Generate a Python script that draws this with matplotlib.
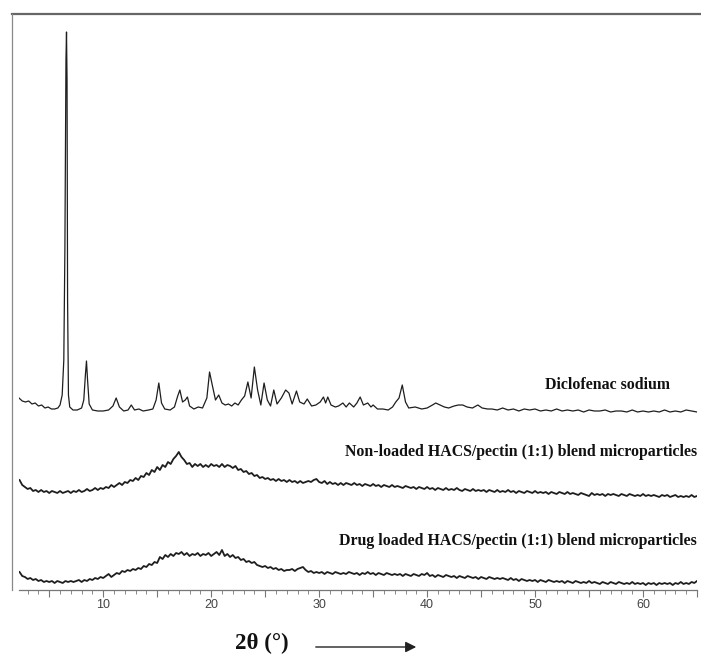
import numpy as np
import matplotlib
matplotlib.use("Agg")
import matplotlib.pyplot as plt
from matplotlib.lines import Line2D
from matplotlib.ticker import MultipleLocator, FuncFormatter

# diffraction patterns, 2theta in degrees, intensity in arbitrary units
dic_2theta = [2.2, 2.5, 2.8, 3.1, 3.4, 3.7, 4.0, 4.3, 4.6, 4.9, 5.2, 5.5, 5.8, 6.0, 6.2, 6.35, 6.45, 6.55, 6.6, 6.65,
              6.7, 6.78, 6.9, 7.2, 7.6, 8.0, 8.2, 8.35, 8.45, 8.55, 8.7, 9.0, 9.5, 10.0, 10.5, 10.9, 11.2, 11.5, 11.9, 12.3,
              12.6, 12.9, 13.3, 13.7, 14.2, 14.6, 14.9, 15.15, 15.4, 15.7, 16.2, 16.6, 16.9, 17.1, 17.35, 17.6, 17.8, 18.0, 18.4, 18.8,
              19.2, 19.6, 19.85, 20.1, 20.4, 20.7, 21.0, 21.3, 21.6, 21.9, 22.2, 22.5, 22.8, 23.1, 23.4, 23.7, 24.0, 24.3, 24.6, 24.9,
              25.2, 25.5, 25.8, 26.1, 26.5, 26.9, 27.2, 27.5, 27.9, 28.2, 28.6, 28.9, 29.3, 29.7, 30.1, 30.4, 30.6, 30.8, 31.1, 31.5,
              31.8, 32.2, 32.5, 32.8, 33.2, 33.5, 33.8, 34.1, 34.5, 34.8, 35.0, 35.4, 35.9, 36.4, 36.8, 37.1, 37.4, 37.7, 38.0, 38.3,
              38.9, 39.5, 40.0, 40.5, 40.8, 41.2, 41.6, 42.0, 42.5, 42.9, 43.3, 43.7, 44.2, 44.7, 45.1, 45.6,
              46.0, 46.5, 47.0, 47.5, 48.0, 48.5, 49.0, 49.5, 50.0, 50.5, 51.0, 51.5, 52.0, 52.5, 53.0, 53.5, 54.0, 54.5, 55.0, 55.5,
              56.0, 56.5, 57.0, 57.5, 58.0, 58.5, 59.0, 59.5, 60.0, 60.5, 61.0, 61.5, 62.0, 62.5, 63.0, 63.5, 64.0, 64.5, 65.0]
dic_int = [17, 14, 13, 14, 11, 12, 9, 10, 7, 8, 6, 6, 7, 10, 20, 55, 165, 355, 383, 335,
           115, 20, 8, 5, 5, 7, 15, 40, 54, 35, 11, 5, 4, 4, 5, 9, 17, 8, 4, 5,
           10, 5, 6, 4, 5, 6, 15, 32, 12, 6, 5, 8, 19, 25, 13, 15, 18, 9, 6, 8,
           7, 17, 43, 30, 15, 20, 12, 10, 11, 9, 12, 10, 15, 19, 33, 17, 48, 25, 10, 32,
           15, 9, 25, 11, 17, 25, 22, 11, 24, 13, 11, 16, 9, 10, 13, 18, 12, 18, 10, 8,
           9, 12, 8, 12, 8, 12, 18, 10, 12, 8, 10, 6, 6, 5, 8, 13, 17, 30, 13, 7,
           8, 6, 7, 10, 12, 10, 8, 7, 9, 10, 10, 8, 7, 10, 7, 6,
           6, 5, 7, 5, 6, 4, 6, 5, 6, 4, 5, 4, 6, 4, 5, 4, 5, 3, 5, 4,
           4, 5, 3, 4, 4, 3, 5, 3, 4, 3, 4, 3, 5, 3, 4, 3, 5, 4, 3]

blend_2theta = np.arange(2.25, 65.01, 0.25)
nonloaded_int = [20, 15, 13, 11, 12, 9, 10, 8, 10, 8, 9, 7, 9, 8, 7, 9, 7, 8, 9, 7,
                 9, 8, 10, 8, 9, 11, 9, 10, 12, 10, 12, 11, 13, 12, 15, 13, 15, 17, 15, 18,
                 17, 20, 19, 22, 20, 24, 23, 27, 25, 30, 28, 33, 30, 35, 33, 38, 36, 41, 44, 48,
                 43, 40, 36, 37, 33, 36, 34, 36, 33, 35, 33, 36, 34, 35, 33, 36, 33, 35, 34, 32,
                 34, 30, 31, 28, 29, 26, 27, 24, 25, 22, 23, 21, 22, 20, 21, 19, 21, 19, 20, 18,
                 20, 18, 19, 17, 19, 17, 18, 19, 18, 20, 21, 18, 17, 19, 16, 18, 16, 17, 15, 17,
                 15, 17, 16, 15, 17, 15, 16, 14, 16, 15, 14, 16, 14, 15, 13, 15, 14, 13, 15, 13,
                 14, 13, 12, 14, 13, 12, 13, 11, 13, 12, 11, 13, 11, 12, 10, 12, 11, 10, 12, 10,
                 11, 10, 12, 10, 9, 11, 10, 9, 11, 9, 10, 9, 10, 8, 10, 9, 8, 10, 8, 9,
                 8, 10, 8, 9, 7, 9, 8, 7, 9, 8, 7, 9, 7, 8, 7, 8, 6, 8, 7, 6,
                 8, 7, 6, 8, 6, 7, 6, 5, 7, 6, 5, 4, 7, 5, 6, 5, 6, 4, 6, 5,
                 6, 5, 4, 6, 5, 4, 6, 5, 4, 5, 4, 6, 4, 5, 4, 5, 4, 3, 5, 4,
                 5, 3, 4, 5, 3, 4, 3, 4, 3, 5, 3, 4]
loaded_int = [18, 14, 13, 11, 12, 10, 11, 9, 10, 8, 9, 8, 9, 7, 9, 8, 7, 9, 8, 9,
              8, 9, 10, 8, 10, 9, 11, 10, 12, 11, 13, 12, 14, 16, 13, 15, 17, 16, 19, 18,
              20, 19, 21, 20, 22, 21, 24, 23, 26, 25, 28, 27, 33, 31, 35, 33, 36, 34, 37, 36,
              38, 35, 37, 34, 36, 35, 37, 34, 36, 35, 37, 34, 36, 38, 35, 40, 34, 36, 33, 35,
              32, 33, 30, 31, 28, 29, 27, 28, 25, 24, 23, 24, 22, 23, 21, 22, 20, 21, 19, 20,
              20, 21, 19, 21, 22, 23, 20, 18, 19, 17, 18, 17, 18, 16, 18, 17, 16, 18, 17, 16,
              17, 16, 18, 17, 16, 17, 15, 17, 16, 18, 16, 17, 15, 17, 16, 15, 17, 16, 15, 16,
              15, 16, 14, 16, 15, 14, 16, 15, 14, 16, 15, 17, 14, 15, 13, 15, 14, 13, 15, 14,
              13, 14, 12, 14, 13, 12, 14, 13, 12, 13, 11, 13, 12, 11, 13, 12, 11, 12, 11, 12,
              11, 10, 12, 10, 11, 9, 11, 10, 9, 10, 9, 10, 8, 10, 9, 8, 10, 9, 8, 9,
              8, 9, 7, 9, 8, 7, 9, 8, 7, 8, 7, 9, 7, 8, 7, 6, 8, 7, 6, 8,
              7, 6, 8, 7, 6, 7, 6, 8, 6, 7, 6, 7, 5, 7, 6, 7, 5, 7, 6, 7,
              6, 7, 5, 7, 6, 8, 6, 7, 6, 8, 7, 9]

labels = ["Diclofenac sodium",
          "Non-loaded HACS/pectin (1:1) blend microparticles",
          "Drug loaded HACS/pectin (1:1) blend microparticles"]
offsets = [175, 90, 0]

W, H = 701, 654
fig = plt.figure(figsize=(W / 100, H / 100), dpi=100)
ax = fig.add_axes([19 / W, (H - 590) / H, (697 - 19) / W, (590 - 14) / H])

lc = "#1e1e1e"
ax.plot(dic_2theta, np.array(dic_int) + offsets[0], color=lc, lw=0.9)
ax.plot(blend_2theta, np.array(nonloaded_int) + offsets[1], color=lc, lw=1.3)
ax.plot(blend_2theta, np.array(loaded_int) + offsets[2], color=lc, lw=1.3)

ax.set_xlim(2.2, 65)
ax.set_ylim(0, 576)
for s in ["top", "right", "left"]:
    ax.spines[s].set_visible(False)
ax.spines["bottom"].set_color("#777777")
ax.spines["bottom"].set_linewidth(0.9)
ax.set_yticks([])
ax.xaxis.set_major_locator(MultipleLocator(5))
ax.xaxis.set_minor_locator(MultipleLocator(1))
ax.xaxis.set_major_formatter(FuncFormatter(lambda v, p: "%d" % v if round(v) % 10 == 0 else ""))
ax.tick_params(axis="x", which="major", length=5, width=0.8, color="#777777",
               labelsize=9, labelcolor="#444444", pad=1.5)
ax.tick_params(axis="x", which="minor", length=3, width=0.7, color="#888888")
for lab in ax.get_xticklabels():
    lab.set_family("Liberation Sans")

# frame lines at top and left
fig.add_artist(Line2D([12 / W, 1], [(H - 14) / H] * 2, color="#666666", lw=1.6))
fig.add_artist(Line2D([12 / W] * 2, [(H - 14) / H, (H - 590) / H], color="#888888", lw=0.9))

font = dict(family="Liberation Serif", weight="bold", fontsize=11.4, color="#111111")
fig.text(670 / W, (H - 385) / H, labels[0], ha="right", va="center", **font)
fig.text(697 / W, (H - 452) / H, labels[1], ha="right", va="center", **font)
fig.text(697 / W, (H - 541) / H, labels[2], ha="right", va="center", **font)

fig.text(235 / W, (H - 643) / H, "2θ (°)", ha="left", va="center",
         family="Liberation Serif", weight="bold", fontsize=16.5, color="#111111")
ax.annotate("", xy=(419 / W, (H - 647) / H), xytext=(313 / W, (H - 647) / H),
            xycoords="figure fraction", textcoords="figure fraction",
            arrowprops=dict(arrowstyle="-|>", color="#222222", lw=1.0, mutation_scale=16))

fig.savefig("out.png", dpi=100)
